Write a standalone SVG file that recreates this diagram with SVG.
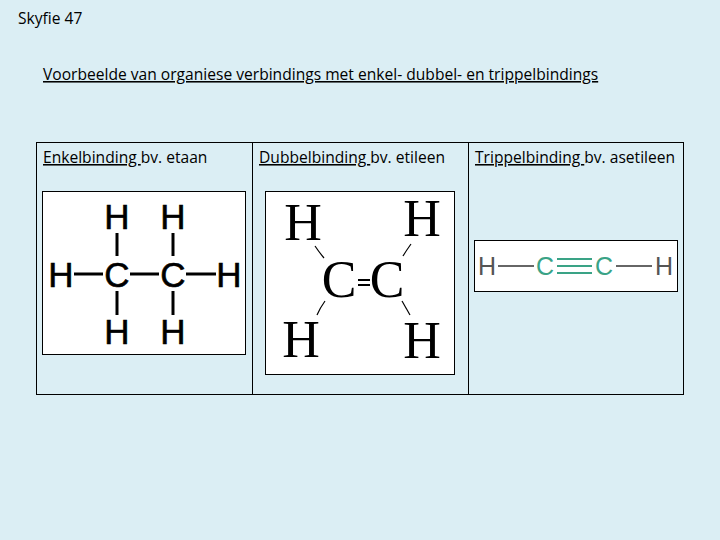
<svg xmlns="http://www.w3.org/2000/svg" width="720" height="540" viewBox="0 0 720 540">
<style>
.t{font-family:"Open Sans","Liberation Sans",sans-serif;font-size:15.6px;fill:#000}
.a{font-family:"Liberation Sans",Arial,sans-serif;font-size:35px;fill:#000;text-anchor:middle;stroke:#000;stroke-width:0.6}
.s{font-family:"Liberation Serif","Times New Roman",serif;font-size:52px;fill:#000;text-anchor:middle}
.g{font-family:"Liberation Sans",Arial,sans-serif;font-size:25px;text-anchor:middle}
.b{stroke:#000;stroke-width:3}
</style>
<rect width="720" height="540" fill="#dbeef4"/>
<text class="t" x="18" y="24">Skyfie 47</text>
<text class="t" x="43" y="80" text-decoration="underline">Voorbeelde van organiese verbindings met enkel- dubbel- en trippelbindings</text>
<g id="table" fill="none" stroke="#000" stroke-width="1">
<rect x="36.5" y="142.5" width="647" height="252"/>
<line x1="252.5" y1="142.5" x2="252.5" y2="394.5"/>
<line x1="468.5" y1="142.5" x2="468.5" y2="394.5"/>
</g>
<text class="t" x="43" y="163"><tspan text-decoration="underline">Enkelbinding </tspan>bv. etaan</text>
<text class="t" x="259" y="163"><tspan text-decoration="underline">Dubbelbinding </tspan>bv. etileen</text>
<text class="t" x="475" y="163"><tspan text-decoration="underline">Trippelbinding </tspan>bv. asetileen</text>
<g id="ethane">
<rect x="42.5" y="191.5" width="203" height="163" fill="#fff" stroke="#000"/>
<text class="a" x="117" y="229">H</text><text class="a" x="173" y="229">H</text>
<text class="a" x="61" y="287">H</text><text class="a" x="117" y="287">C</text><text class="a" x="173" y="287">C</text><text class="a" x="229" y="287">H</text>
<text class="a" x="117" y="344">H</text><text class="a" x="173" y="344">H</text>
<g class="b">
<line x1="117" y1="233" x2="117" y2="256"/><line x1="173" y1="233" x2="173" y2="256"/>
<line x1="117" y1="291" x2="117" y2="315"/><line x1="173" y1="291" x2="173" y2="315"/>
<line x1="74" y1="274" x2="103" y2="274"/><line x1="130" y1="274" x2="159" y2="274"/><line x1="186" y1="274" x2="216" y2="274"/>
</g>
</g>
<g id="ethene">
<rect x="265.5" y="191.5" width="189" height="183" fill="#fff" stroke="#000"/>
<text class="s" x="303" y="240">H</text><text class="s" x="422" y="236">H</text>
<text class="s" x="339" y="297">C</text><text class="s" x="387" y="297">C</text>
<text class="s" x="301" y="357">H</text><text class="s" x="422" y="358">H</text>
<g stroke="#000" stroke-width="1.2" fill="none">
<path d="M315 246 Q319 252 324 258"/><path d="M411 244 Q406 251 403 256"/>
<path d="M325 301 Q320 308 317 315"/><path d="M402 301 Q406 308 410 315"/>
<line x1="358" y1="280" x2="370" y2="280" stroke-width="2"/><line x1="358" y1="285" x2="370" y2="285" stroke-width="2"/>
</g>
</g>
<g id="ethyne">
<rect x="474.5" y="240.5" width="203" height="51" fill="#fff" stroke="#000"/>
<text class="g" x="487" y="275" fill="#555">H</text>
<text class="g" x="545" y="275" fill="#3aa386">C</text>
<text class="g" x="604" y="275" fill="#3aa386">C</text>
<text class="g" x="664" y="275" fill="#555">H</text>
<g stroke-width="2">
<line x1="498" y1="266" x2="534" y2="266" stroke="#666"/>
<line x1="616" y1="266" x2="652" y2="266" stroke="#666"/>
<line x1="557" y1="259" x2="592" y2="259" stroke="#3aa386"/>
<line x1="557" y1="266" x2="592" y2="266" stroke="#3aa386"/>
<line x1="557" y1="273" x2="592" y2="273" stroke="#3aa386"/>
</g>
</g>
</svg>
